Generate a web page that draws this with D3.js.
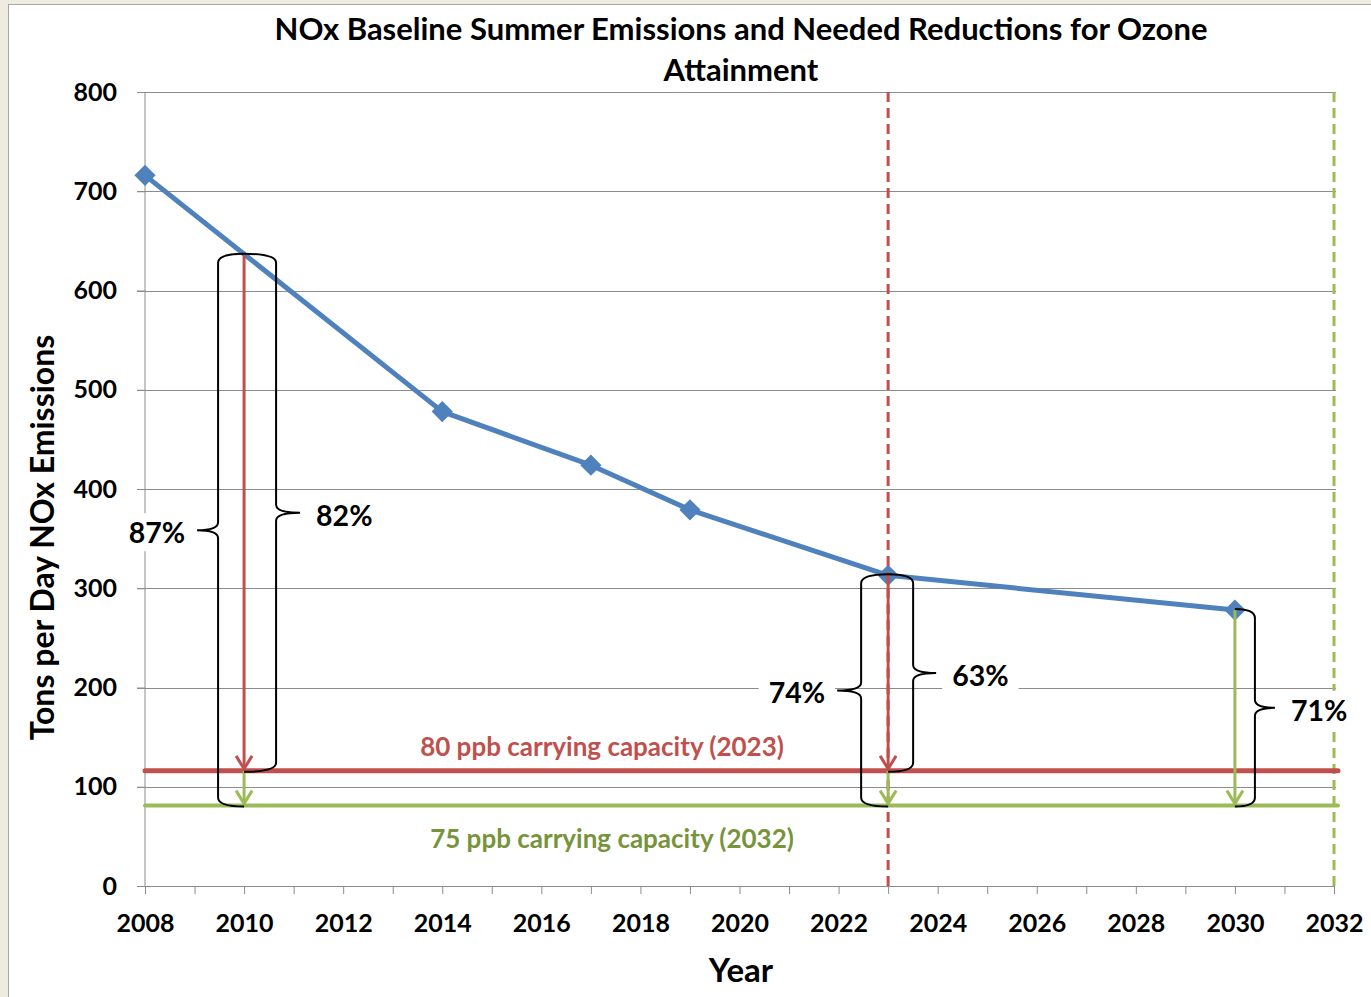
<!DOCTYPE html>
<html>
<head>
<meta charset="utf-8">
<script src="https://cdn.jsdelivr.net/npm/d3@7"></script>
<style>
  body { margin: 0; background: #eeece1; }
  svg { display: block; font-family: Lato, "Open Sans", sans-serif; }
</style>
</head>
<body>
<svg id="chart" width="1371" height="997"></svg>
<script>
// data
const years = [2008, 2014, 2017, 2019, 2023, 2030];
const tonsPerDay = [716, 478, 424, 379, 313, 278];
const yTicks = [0, 100, 200, 300, 400, 500, 600, 700, 800];
const xTickYears = d3.range(2008, 2033);

const cap80 = 116;   // 80 ppb carrying capacity (2023)
const cap75 = 81;    // 75 ppb carrying capacity (2032)

// needed reductions: arrows and braces
const arrows = [
  { year: 2010, from: 636, to: cap80, color: 'red' },
  { year: 2010, from: cap80, to: cap75, color: 'green' },
  { year: 2023, from: 313, to: cap80, color: 'red' },
  { year: 2023, from: cap80, to: cap75, color: 'green' },
  { year: 2030, from: 278, to: cap75, color: 'green' }
];
const braces = [
  { year: 2010, side: -1, top: 636, bottom: cap75, label: '87%', off: 26, tip: 21 },
  { year: 2010, side: 1, top: 636, bottom: cap80, label: '82%', off: 32, tip: 24 },
  { year: 2023, side: -1, top: 313, bottom: cap75, label: '74%', off: 27, tip: 24 },
  { year: 2023, side: 1, top: 313, bottom: cap80, label: '63%', off: 25, tip: 23 },
  { year: 2030, side: 1, top: 278, bottom: cap75, label: '71%', off: 20, tip: 20 }
];

const colors = { blue: '#4f81bd', red: '#c0504d', green: '#9bbb59', grid: '#8c8c8c' };

const svg = d3.select('#chart');

// white panel with grey frame
svg.append('rect')
  .attr('x', 8.5).attr('y', 4.5)
  .attr('width', 1380).attr('height', 1000)
  .attr('fill', '#fff')
  .attr('stroke', '#a6a6a6');

const x = d3.scaleLinear().domain([2008, 2032]).range([145, 1334]);
const y = d3.scaleLinear().domain([0, 800]).range([886, 92]);

// gridlines
svg.append('g').selectAll('line')
  .data(yTicks.filter(d => d > 0))
  .join('line')
  .attr('x1', x(2008) - 8).attr('x2', x(2032) + 2)
  .attr('y1', d => Math.round(y(d)) + 0.5).attr('y2', d => Math.round(y(d)) + 0.5)
  .attr('stroke', colors.grid).attr('stroke-width', 1);

// axes
const yAxis = d3.axisLeft(y).tickValues(yTicks).tickSize(8).tickPadding(20);
const xAxis = d3.axisBottom(x).tickValues(xTickYears).tickSize(8).tickPadding(20)
  .tickFormat(d => d % 2 === 0 ? d : '');

const gy = svg.append('g').attr('transform', `translate(${x(2008)},0)`).call(yAxis);
const gx = svg.append('g').attr('transform', `translate(0,${y(0)})`).call(xAxis);
[gx, gy].forEach(g => {
  g.select('.domain').attr('stroke', colors.grid);
  g.selectAll('.tick line').attr('stroke', colors.grid);
  g.selectAll('.tick text')
    .attr('fill', '#000')
    .style('font-size', '25px')
    .style('font-weight', 700)
    .style('font-family', 'Lato, sans-serif');
});
gy.select('.domain').attr('d', `M0,${y(0)}V${y(800)}`);

// series
svg.append('path')
  .datum(years.map((d, i) => [d, tonsPerDay[i]]))
  .attr('fill', 'none')
  .attr('stroke', colors.blue)
  .attr('stroke-width', 5)
  .attr('stroke-linejoin', 'round')
  .attr('d', d3.line().x(d => x(d[0])).y(d => y(d[1])));

svg.append('g').selectAll('rect')
  .data(years.map((d, i) => [d, tonsPerDay[i]]))
  .join('rect')
  .attr('x', -7.5).attr('y', -7.5).attr('width', 15).attr('height', 15)
  .attr('fill', colors.blue)
  .attr('transform', d => `translate(${x(d[0])},${y(d[1])}) rotate(45)`);

// dashed target year lines
[[2023, colors.red], [2032, colors.green]].forEach(([yr, c]) => {
  svg.append('line')
    .attr('x1', x(yr)).attr('x2', x(yr))
    .attr('y1', y(800)).attr('y2', y(0))
    .attr('stroke', c).attr('stroke-width', 3)
    .attr('stroke-dasharray', '10,6');
});

// carrying capacity lines
svg.append('line')
  .attr('x1', x(2008)).attr('x2', x(2032) + 4)
  .attr('y1', y(cap80)).attr('y2', y(cap80))
  .attr('stroke', colors.red).attr('stroke-width', 5).attr('stroke-linecap', 'round');
svg.append('line')
  .attr('x1', x(2008)).attr('x2', x(2032) + 4)
  .attr('y1', y(cap75)).attr('y2', y(cap75))
  .attr('stroke', colors.green).attr('stroke-width', 4).attr('stroke-linecap', 'round');

svg.append('text')
  .attr('x', 602).attr('y', y(cap80) - 15)
  .attr('text-anchor', 'middle')
  .attr('fill', colors.red)
  .style('font-size', '26px').style('font-weight', 700)
  .text('80 ppb carrying capacity (2023)');
svg.append('text')
  .attr('x', 612).attr('y', y(cap75) + 42)
  .attr('text-anchor', 'middle')
  .attr('fill', '#77933c')
  .style('font-size', '26px').style('font-weight', 700)
  .text('75 ppb carrying capacity (2032)');

// arrows
arrows.forEach(a => {
  const ax = x(a.year), y0 = y(a.from), y1 = y(a.to) - 2;
  const c = colors[a.color];
  svg.append('line')
    .attr('x1', ax).attr('x2', ax).attr('y1', y0).attr('y2', y1)
    .attr('stroke', c).attr('stroke-width', 3);
  svg.append('path')
    .attr('d', `M${ax - 8},${y1 - 13}L${ax},${y1}L${ax + 8},${y1 - 13}`)
    .attr('fill', 'none').attr('stroke', c).attr('stroke-width', 3);
});

// braces with percentage labels
braces.forEach(b => {
  const ax = x(b.year);
  const bx = ax + b.side * b.off;
  const tx = bx + b.side * b.tip;
  const y0 = y(b.top), y1 = y(b.bottom), ym = (y0 + y1) / 2;
  const r = 8;
  const d = `M${ax},${y0 - 1}` +
    `Q${bx},${y0 - 1} ${bx},${y0 + r}` +
    `L${bx},${ym - r}` +
    `Q${bx},${ym} ${tx},${ym}` +
    `Q${bx},${ym} ${bx},${ym + r}` +
    `L${bx},${y1 - r}` +
    `Q${bx},${y1 + 1} ${ax},${y1 + 1}`;

  const lab = svg.append('g');
  const t = lab.append('text')
    .attr('x', tx + b.side * (b.side > 0 ? 16 : 12))
    .attr('y', ym + 3)
    .attr('dy', '0.35em')
    .attr('text-anchor', b.side > 0 ? 'start' : 'end')
    .attr('fill', '#000')
    .style('font-size', '28.5px').style('font-weight', 700)
    .text(b.label);
  const bb = t.node().getBBox();
  lab.insert('rect', 'text')
    .attr('x', bb.x - 10).attr('y', bb.y - 2)
    .attr('width', bb.width + 20).attr('height', bb.height + 4)
    .attr('fill', '#fff');

  svg.append('path')
    .attr('d', d)
    .attr('fill', 'none')
    .attr('stroke', '#000')
    .attr('stroke-width', 2);
});

// titles
const title = svg.append('text')
  .attr('x', 741).attr('text-anchor', 'middle')
  .attr('fill', '#000')
  .style('font-size', '31px').style('font-weight', 700);
title.append('tspan').attr('x', 741).attr('y', 40)
  .text('NOx Baseline Summer Emissions and Needed Reductions for Ozone');
title.append('tspan').attr('x', 741).attr('y', 81).text('Attainment');

svg.append('text')
  .attr('x', 741).attr('y', 982)
  .attr('text-anchor', 'middle')
  .attr('fill', '#000')
  .style('font-size', '33px').style('font-weight', 700)
  .text('Year');

svg.append('text')
  .attr('transform', `translate(54,${(330 + 745) / 2}) rotate(-90)`)
  .attr('text-anchor', 'middle')
  .attr('fill', '#000')
  .style('font-size', '32px').style('font-weight', 700)
  .text('Tons per Day NOx Emissions');
</script>
</body>
</html>
